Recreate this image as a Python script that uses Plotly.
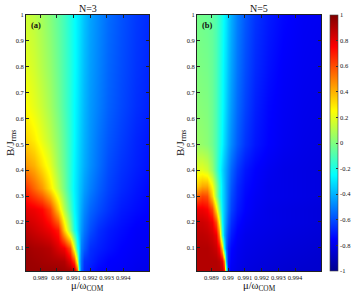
import plotly.graph_objects as go

# ---------------- data ----------------
x_ticks = [0.989, 0.990, 0.991, 0.992, 0.993, 0.994]
x_ticktext = ["0.989", "0.99", "0.991", "0.992", "0.993", "0.994"]
y_ticks = [0.1, 0.2, 0.3, 0.4, 0.5, 0.6, 0.7, 0.8, 0.9, 1.0]
y_ticktext = ["0.1", "0.2", "0.3", "0.4", "0.5", "0.6", "0.7", "0.8", "0.9", "1"]
cbar_ticks = [-1, -0.8, -0.6, -0.4, -0.2, 0, 0.2, 0.4, 0.6, 0.8, 1]
cbar_ticktext = ["-1", "-0.8", "-0.6", "-0.4", "-0.2", "0", "0.2", "0.4", "0.6", "0.8", "1"]

# panel (a) N=3
mu_a = [0.98814, 0.98862, 0.98910, 0.98959, 0.99007, 0.99043, 0.99079, 0.99103, 0.99121,
        0.99133, 0.99145, 0.99163, 0.99200, 0.99248, 0.99308, 0.99386, 0.99477, 0.99561]
b_a = [0.01, 0.05, 0.1, 0.17, 0.25, 0.33, 0.42, 0.52, 0.65, 0.8, 1.0]
z_a = [
    [0.95, 0.95, 0.95, 0.95, 0.95, 0.94, 0.93, 0.90, 0.60, -0.25, -0.55, -0.67, -0.71, -0.75, -0.76, -0.77, -0.79, -0.80],
    [0.95, 0.94, 0.93, 0.92, 0.91, 0.90, 0.80, 0.63, 0.20, -0.35, -0.53, -0.65, -0.68, -0.72, -0.75, -0.76, -0.78, -0.79],
    [0.94, 0.92, 0.91, 0.89, 0.82, 0.77, 0.60, 0.20, -0.19, -0.32, -0.50, -0.57, -0.66, -0.69, -0.72, -0.75, -0.77, -0.78],
    [0.88, 0.85, 0.82, 0.78, 0.70, 0.35, 0.05, -0.20, -0.30, -0.38, -0.45, -0.52, -0.60, -0.66, -0.70, -0.73, -0.76, -0.77],
    [0.80, 0.78, 0.74, 0.62, 0.35, 0.10, -0.10, -0.25, -0.32, -0.37, -0.42, -0.48, -0.55, -0.60, -0.65, -0.70, -0.73, -0.75],
    [0.65, 0.55, 0.45, 0.30, 0.12, -0.02, -0.17, -0.27, -0.32, -0.36, -0.39, -0.44, -0.50, -0.56, -0.62, -0.67, -0.71, -0.74],
    [0.45, 0.40, 0.30, 0.20, 0.05, -0.05, -0.17, -0.26, -0.31, -0.34, -0.37, -0.41, -0.47, -0.53, -0.60, -0.65, -0.69, -0.72],
    [0.33, 0.28, 0.20, 0.12, 0.02, -0.07, -0.17, -0.25, -0.30, -0.33, -0.36, -0.40, -0.46, -0.52, -0.58, -0.63, -0.68, -0.71],
    [0.25, 0.20, 0.14, 0.07, -0.02, -0.10, -0.18, -0.25, -0.29, -0.32, -0.35, -0.39, -0.45, -0.50, -0.56, -0.61, -0.66, -0.69],
    [0.20, 0.16, 0.10, 0.04, -0.04, -0.11, -0.18, -0.24, -0.28, -0.31, -0.34, -0.38, -0.44, -0.49, -0.55, -0.60, -0.65, -0.68],
    [0.15, 0.12, 0.07, 0.01, -0.06, -0.12, -0.19, -0.24, -0.28, -0.30, -0.33, -0.37, -0.43, -0.48, -0.54, -0.59, -0.64, -0.67],
]

# panel (b) N=5
mu_b = [0.98814, 0.98844, 0.98874, 0.98904, 0.98928, 0.98947, 0.98965, 0.98977, 0.98989,
        0.99001, 0.99019, 0.99055, 0.99103, 0.99163, 0.99236, 0.99326, 0.99447, 0.99561]
b_b = [0.01, 0.05, 0.1, 0.15, 0.2, 0.25, 0.3, 0.34, 0.4, 0.5, 0.65, 0.8, 1.0]
z_b = [
    [0.90, 0.90, 0.90, 0.90, 0.90, 0.90, 0.88, 0.75, -0.10, -0.72, -0.78, -0.80, -0.82, -0.83, -0.84, -0.85, -0.86, -0.86],
    [0.90, 0.90, 0.90, 0.90, 0.90, 0.88, 0.80, 0.50, -0.40, -0.70, -0.76, -0.79, -0.81, -0.82, -0.83, -0.84, -0.85, -0.86],
    [0.90, 0.90, 0.90, 0.88, 0.85, 0.75, 0.35, -0.25, -0.55, -0.68, -0.74, -0.78, -0.80, -0.81, -0.82, -0.83, -0.84, -0.85],
    [0.88, 0.88, 0.87, 0.84, 0.78, 0.50, -0.15, -0.40, -0.53, -0.62, -0.70, -0.76, -0.79, -0.80, -0.81, -0.82, -0.83, -0.84],
    [0.85, 0.85, 0.83, 0.78, 0.60, 0.25, -0.25, -0.38, -0.48, -0.57, -0.66, -0.73, -0.77, -0.79, -0.80, -0.81, -0.82, -0.83],
    [0.78, 0.78, 0.75, 0.62, 0.30, 0.00, -0.28, -0.37, -0.45, -0.53, -0.62, -0.70, -0.75, -0.78, -0.80, -0.81, -0.82, -0.83],
    [0.55, 0.62, 0.60, 0.35, 0.05, -0.15, -0.30, -0.37, -0.44, -0.51, -0.60, -0.68, -0.74, -0.77, -0.79, -0.80, -0.81, -0.82],
    [0.35, 0.42, 0.42, 0.25, 0.02, -0.15, -0.30, -0.37, -0.44, -0.50, -0.58, -0.67, -0.73, -0.76, -0.79, -0.80, -0.81, -0.82],
    [0.20, 0.20, 0.16, 0.05, -0.10, -0.22, -0.32, -0.38, -0.43, -0.48, -0.55, -0.64, -0.71, -0.75, -0.78, -0.80, -0.81, -0.82],
    [0.05, 0.04, 0.02, -0.03, -0.10, -0.18, -0.26, -0.32, -0.37, -0.42, -0.48, -0.57, -0.65, -0.71, -0.75, -0.78, -0.80, -0.81],
    [0.02, 0.01, 0.00, -0.04, -0.10, -0.17, -0.24, -0.29, -0.34, -0.39, -0.45, -0.54, -0.62, -0.69, -0.74, -0.77, -0.79, -0.80],
    [0.00, -0.01, -0.02, -0.05, -0.10, -0.16, -0.23, -0.28, -0.32, -0.37, -0.43, -0.52, -0.60, -0.67, -0.72, -0.76, -0.78, -0.79],
    [-0.02, -0.03, -0.04, -0.06, -0.10, -0.15, -0.21, -0.26, -0.30, -0.35, -0.41, -0.50, -0.58, -0.65, -0.70, -0.74, -0.77, -0.78],
]

titles = ["N=3", "N=5"]
panel_labels = ["(a)", "(b)"]

# ---------------- figure ----------------
W, H = 356, 295
FONT = "Liberation Serif"
jet = [[0.0, "rgb(0,0,143)"], [0.125, "rgb(0,0,255)"], [0.375, "rgb(0,255,255)"],
       [0.625, "rgb(255,255,0)"], [0.875, "rgb(255,0,0)"], [1.0, "rgb(128,0,0)"]]

def px(x):
    return x / W

def py(y):
    return 1 - y / H

fig = go.Figure()
fig.add_trace(go.Heatmap(x=mu_a, y=b_a, z=z_a, coloraxis="coloraxis", zsmooth="best",
                         xaxis="x", yaxis="y", hoverinfo="skip"))
fig.add_trace(go.Heatmap(x=mu_b, y=b_b, z=z_b, coloraxis="coloraxis", zsmooth="best",
                         xaxis="x2", yaxis="y2", hoverinfo="skip"))

xdom = [[px(26), px(149)], [px(197), px(321)]]
ydom = [py(271), py(15)]
xr = [0.98814, 0.99555]
yr = [0.01, 1.0]

ax_common = dict(showgrid=False, zeroline=False, showline=True, linecolor="#222",
                 linewidth=0.8, mirror="ticks", ticks="inside", ticklen=3,
                 tickcolor="#222", tickwidth=0.8, tickangle=0,
                 tickfont=dict(family=FONT, size=6.5, color="#111"), automargin=False)

fig.update_layout(
    width=W, height=H, margin=dict(l=0, r=0, t=0, b=0),
    paper_bgcolor="white", plot_bgcolor="white", template="none",
    showlegend=False,
    xaxis=dict(domain=xdom[0], range=xr, tickvals=x_ticks, ticktext=x_ticktext,
               anchor="y", **ax_common),
    yaxis=dict(domain=ydom, range=yr, tickvals=y_ticks, ticktext=y_ticktext,
               anchor="x", **ax_common),
    xaxis2=dict(domain=xdom[1], range=xr, tickvals=x_ticks, ticktext=x_ticktext,
                anchor="y2", **ax_common),
    yaxis2=dict(domain=ydom, range=yr, tickvals=y_ticks, ticktext=y_ticktext,
                anchor="x2", **ax_common),
    coloraxis=dict(
        colorscale=jet, cmin=-1, cmax=1,
        colorbar=dict(x=px(330), xanchor="left", xpad=0, y=py(271), yanchor="bottom",
                      ypad=0, len=256 / H, lenmode="fraction", thickness=8,
                      thicknessmode="pixels", tickvals=cbar_ticks, ticktext=cbar_ticktext,
                      ticks="inside", ticklen=2, tickcolor="#333",
                      outlinewidth=0.6, outlinecolor="#444",
                      tickfont=dict(family=FONT, size=6.5, color="#111")),
    ),
)

annots = []
for i, xd in enumerate(xdom):
    cx = (xd[0] + xd[1]) / 2
    annots.append(dict(text=titles[i], x=cx, y=py(9), xref="paper", yref="paper",
                       showarrow=False, font=dict(family=FONT, size=10, color="#111"),
                       xanchor="center", yanchor="middle"))
    annots.append(dict(text="<b>" + panel_labels[i] + "</b>", x=xd[0] + px(3), y=py(25),
                       xref="paper", yref="paper", showarrow=False,
                       font=dict(family=FONT, size=8.5, color="#111"),
                       xanchor="left", yanchor="middle"))
    annots.append(dict(text="μ/ω<sub>COM</sub>", x=cx, y=py(286), xref="paper", yref="paper",
                       showarrow=False, font=dict(family=FONT, size=10.5, color="#111"),
                       xanchor="center", yanchor="middle"))
ytitle_x = [11, 181]
for tx in ytitle_x:
    annots.append(dict(text="B/J<sub>rms</sub>", x=px(tx), y=py(143), xref="paper",
                       yref="paper", showarrow=False, textangle=-90,
                       font=dict(family=FONT, size=11, color="#111"),
                       xanchor="center", yanchor="middle"))
fig.update_layout(annotations=annots)

fig.write_html("out.html", config={"displayModeBar": False},
               post_script="document.body.style.margin='0';document.body.style.overflow='hidden';")
